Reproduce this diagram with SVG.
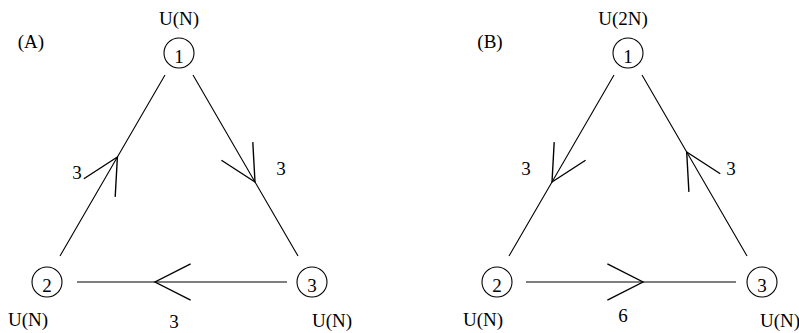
<svg xmlns="http://www.w3.org/2000/svg" width="799" height="333" viewBox="0 0 799 333">
<style>
  text { font-family: "Liberation Serif", "Times New Roman", serif; font-size: 19px; fill: #000; text-anchor: middle; }
  .node circle { fill: none; stroke: #000; stroke-width: 1.1; }
  .edge { fill: none; stroke: #000; stroke-width: 1.1; marker-mid: url(#chev); }
</style>
<defs>
  <marker id="chev" markerUnits="userSpaceOnUse" orient="auto" refX="0" refY="0" markerWidth="40" markerHeight="40" viewBox="-30 -16 32 32" overflow="visible">
    <path d="M -28.5 -14.5 L 0 0 L -28.5 14.5" fill="none" stroke="#000" stroke-width="1.1"/>
  </marker>
</defs>
<rect width="799" height="333" fill="#fff"/>

<!-- Diagram A -->
<text x="31" y="48">(A)</text>
<g id="A1" class="node"><circle cx="179" cy="53" r="15"/><text x="179" y="63">1</text><text x="179" y="25">U(N)</text></g>
<g id="A2" class="node"><circle cx="47" cy="282" r="15"/><text x="47" y="292">2</text><text x="28" y="326">U(N)</text></g>
<g id="A3" class="node"><circle cx="312" cy="282" r="15"/><text x="312" y="292">3</text><text x="332" y="327">U(N)</text></g>
<g id="A-connectors">
  <path class="edge" d="M 60 256 L 117.4 157 L 165 75"/>
  <path class="edge" d="M 193 75 L 255 182 L 298 256"/>
  <path class="edge" d="M 287 282 L 155 282 L 77 282"/>
  <text x="77" y="179">3</text>
  <text x="281" y="175">3</text>
  <text x="174" y="328">3</text>
</g>

<!-- Diagram B -->
<text x="490" y="48">(B)</text>
<g id="B1" class="node"><circle cx="628" cy="53" r="15"/><text x="628" y="63">1</text><text x="623" y="25">U(2N)</text></g>
<g id="B2" class="node"><circle cx="497" cy="282" r="15"/><text x="497" y="292">2</text><text x="483" y="326">U(N)</text></g>
<g id="B3" class="node"><circle cx="762" cy="282" r="15"/><text x="762" y="292">3</text><text x="780" y="327">U(N)</text></g>
<g id="B-connectors">
  <path class="edge" d="M 614 75 L 552 182 L 509 256"/>
  <path class="edge" d="M 747 256 L 686.7 152 L 642 75"/>
  <path class="edge" d="M 526 282 L 643 282 L 736 282"/>
  <text x="526" y="175">3</text>
  <text x="731" y="175">3</text>
  <text x="623" y="322">6</text>
</g>
</svg>
